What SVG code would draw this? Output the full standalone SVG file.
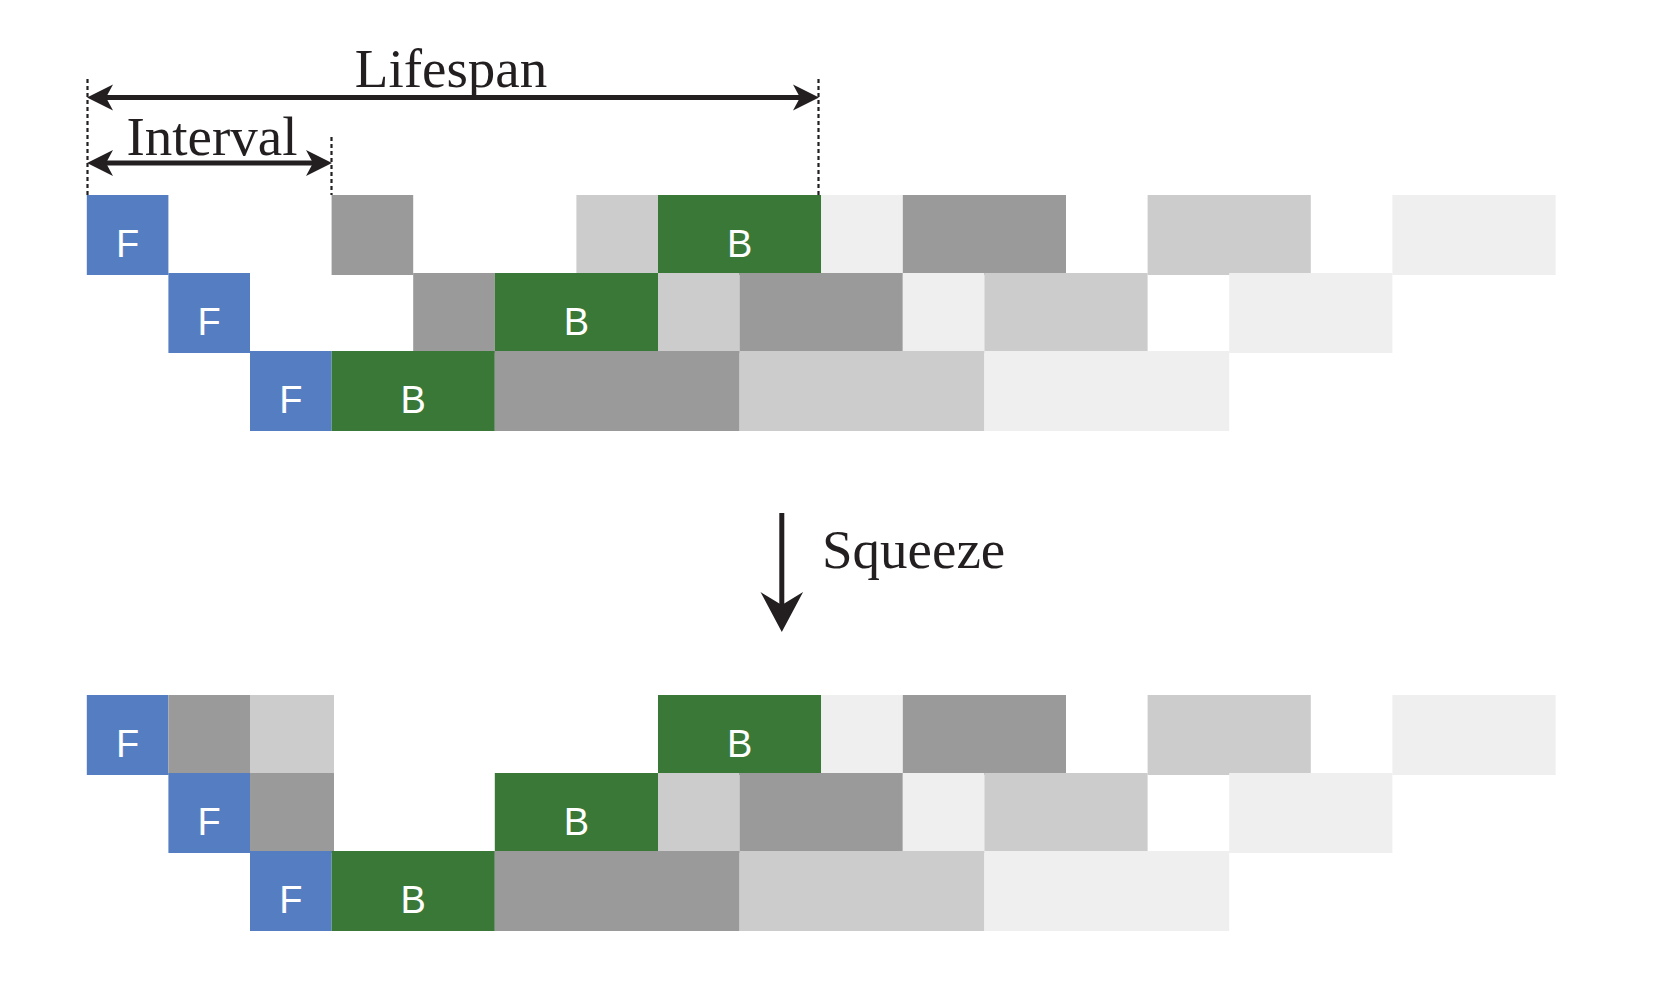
<svg xmlns="http://www.w3.org/2000/svg" width="1661" height="997" viewBox="0 0 1661 997">
<style>
.f{fill:#557EC2}
.b{fill:#3A7838}
.g1{fill:#9A9A9A}
.g2{fill:#CCCCCC}
.g3{fill:#EFEFEF}
.lbl{font-family:"Liberation Sans",Arial,sans-serif;font-size:38px;fill:#FFFFFF;text-anchor:middle}
.ser{font-family:"Liberation Serif","Times New Roman",serif;font-size:55px;fill:#231F20}
.ln{stroke:#231F20;stroke-width:4.8;fill:none}
.dash{stroke:#231F20;stroke-width:2.2;stroke-dasharray:4 3;fill:none}
.ah{fill:#231F20}
</style>
<rect width="1661" height="997" fill="#FFFFFF"/>

<!-- Top group -->
<g id="top">
  <g id="t-r1">
    <g id="t-r1-F"><rect class="f" x="86.8" y="195" width="81.6" height="80"/><text class="lbl" x="127.6" y="257">F</text></g>
    <g id="t-r1-g1"><rect class="g1" x="331.6" y="195" width="81.6" height="80"/></g>
    <g id="t-r1-g2"><rect class="g2" x="576.4" y="195" width="81.6" height="80"/></g>
    <g id="t-r1-B"><rect class="b" x="658" y="195" width="163.2" height="80"/><text class="lbl" x="739.6" y="257">B</text></g>
    <g id="t-r1-g3"><rect class="g3" x="821.2" y="195" width="81.6" height="80"/></g>
    <g id="t-r1-g4"><rect class="g1" x="902.8" y="195" width="163.2" height="80"/></g>
    <g id="t-r1-g5"><rect class="g2" x="1147.6" y="195" width="163.2" height="80"/></g>
    <g id="t-r1-g6"><rect class="g3" x="1392.4" y="195" width="163.2" height="80"/></g>
  </g>
  <g id="t-r2">
    <g id="t-r2-F"><rect class="f" x="168.4" y="273" width="81.6" height="80"/><text class="lbl" x="209.2" y="335">F</text></g>
    <g id="t-r2-g1"><rect class="g1" x="413.2" y="273" width="81.6" height="80"/></g>
    <g id="t-r2-B"><rect class="b" x="494.8" y="273" width="163.2" height="80"/><text class="lbl" x="576.4" y="335">B</text></g>
    <g id="t-r2-g2"><rect class="g2" x="658" y="273" width="81.6" height="80"/></g>
    <g id="t-r2-g3"><rect class="g1" x="739.6" y="273" width="163.2" height="80"/></g>
    <g id="t-r2-g4"><rect class="g3" x="902.8" y="273" width="81.6" height="80"/></g>
    <g id="t-r2-g5"><rect class="g2" x="984.4" y="273" width="163.2" height="80"/></g>
    <g id="t-r2-g6"><rect class="g3" x="1229.2" y="273" width="163.2" height="80"/></g>
  </g>
  <g id="t-r3">
    <g id="t-r3-F"><rect class="f" x="250" y="351" width="81.6" height="80"/><text class="lbl" x="290.8" y="413">F</text></g>
    <g id="t-r3-B"><rect class="b" x="331.6" y="351" width="163.2" height="80"/><text class="lbl" x="413.2" y="413">B</text></g>
    <g id="t-r3-g1"><rect class="g1" x="494.8" y="351" width="244.8" height="80"/></g>
    <g id="t-r3-g2"><rect class="g2" x="739.6" y="351" width="244.8" height="80"/></g>
    <g id="t-r3-g3"><rect class="g3" x="984.4" y="351" width="244.8" height="80"/></g>
  </g>
</g>

<!-- Bottom group -->
<g id="bottom">
  <g id="b-r1">
    <g id="b-r1-F"><rect class="f" x="86.8" y="695" width="81.6" height="80"/><text class="lbl" x="127.6" y="757">F</text></g>
    <g id="b-r1-g1"><rect class="g1" x="168.4" y="695" width="81.6" height="80"/></g>
    <g id="b-r1-g2"><rect class="g2" x="250" y="695" width="84" height="80"/></g>
    <g id="b-r1-B"><rect class="b" x="658" y="695" width="163.2" height="80"/><text class="lbl" x="739.6" y="757">B</text></g>
    <g id="b-r1-g3"><rect class="g3" x="821.2" y="695" width="81.6" height="80"/></g>
    <g id="b-r1-g4"><rect class="g1" x="902.8" y="695" width="163.2" height="80"/></g>
    <g id="b-r1-g5"><rect class="g2" x="1147.6" y="695" width="163.2" height="80"/></g>
    <g id="b-r1-g6"><rect class="g3" x="1392.4" y="695" width="163.2" height="80"/></g>
  </g>
  <g id="b-r2">
    <g id="b-r2-F"><rect class="f" x="168.4" y="773" width="81.6" height="80"/><text class="lbl" x="209.2" y="835">F</text></g>
    <g id="b-r2-g1"><rect class="g1" x="250" y="773" width="84" height="80"/></g>
    <g id="b-r2-B"><rect class="b" x="494.8" y="773" width="163.2" height="80"/><text class="lbl" x="576.4" y="835">B</text></g>
    <g id="b-r2-g2"><rect class="g2" x="658" y="773" width="81.6" height="80"/></g>
    <g id="b-r2-g3"><rect class="g1" x="739.6" y="773" width="163.2" height="80"/></g>
    <g id="b-r2-g4"><rect class="g3" x="902.8" y="773" width="81.6" height="80"/></g>
    <g id="b-r2-g5"><rect class="g2" x="984.4" y="773" width="163.2" height="80"/></g>
    <g id="b-r2-g6"><rect class="g3" x="1229.2" y="773" width="163.2" height="80"/></g>
  </g>
  <g id="b-r3">
    <g id="b-r3-F"><rect class="f" x="250" y="851" width="81.6" height="80"/><text class="lbl" x="290.8" y="913">F</text></g>
    <g id="b-r3-B"><rect class="b" x="331.6" y="851" width="163.2" height="80"/><text class="lbl" x="413.2" y="913">B</text></g>
    <g id="b-r3-g1"><rect class="g1" x="494.8" y="851" width="244.8" height="80"/></g>
    <g id="b-r3-g2"><rect class="g2" x="739.6" y="851" width="244.8" height="80"/></g>
    <g id="b-r3-g3"><rect class="g3" x="984.4" y="851" width="244.8" height="80"/></g>
  </g>
</g>

<!-- Labels -->
<g id="labels">
  <text class="ser" x="451" y="87" text-anchor="middle">Lifespan</text>
  <text class="ser" x="212" y="155" text-anchor="middle">Interval</text>
  <text class="ser" x="822" y="568">Squeeze</text>
</g>

<!-- Connectors -->
<g id="connectors">
  <line class="dash" x1="87.5" y1="79" x2="87.5" y2="195"/>
  <line class="dash" x1="818.5" y1="79" x2="818.5" y2="195"/>
  <line class="dash" x1="331.5" y1="137" x2="331.5" y2="195"/>
  <!-- Lifespan -->
  <line class="ln" x1="100" y1="97.5" x2="806" y2="97.5"/>
  <path class="ah" d="M87,97.5 L113,84.5 L106,97.5 L113,110.5 Z"/>
  <path class="ah" d="M819,97.5 L793,84.5 L800,97.5 L793,110.5 Z"/>
  <!-- Interval -->
  <line class="ln" x1="100" y1="163" x2="320" y2="163"/>
  <path class="ah" d="M87,163 L113,150 L106,163 L113,176 Z"/>
  <path class="ah" d="M332,163 L306,150 L313,163 L306,176 Z"/>
  <!-- Squeeze -->
  <line x1="781.8" y1="513" x2="781.8" y2="612" stroke="#231F20" stroke-width="5"/>
  <path class="ah" d="M781.8,632 L760.5,592 L781.8,605 L803.1,592 Z"/>
</g>
</svg>
